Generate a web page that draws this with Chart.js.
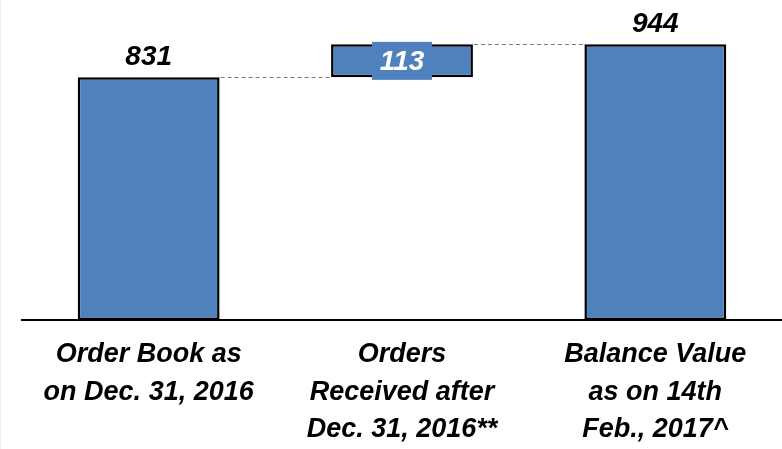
<!DOCTYPE html>
<html>
<head>
<meta charset="utf-8">
<script src="https://cdn.jsdelivr.net/npm/chart.js@4/dist/chart.umd.min.js"></script>
<style>
    html, body { margin: 0; padding: 0; background: #fff; }
    #wrap { width: 782px; height: 449px; position: relative; border-left: 1px solid #f2f2f2; box-sizing: border-box; }
</style>
</head>
<body>
<div id="wrap"><canvas id="chart"></canvas></div>
<script>
// Chart data
const categories = [
    ['Order Book as', 'on Dec. 31, 2016'],
    ['Orders', 'Received after', 'Dec. 31, 2016**'],
    ['Balance Value', 'as on 14th', 'Feb., 2017^']
];
const startValues = [0, 831, 0];
const endValues = [831, 944, 944];
const valueLabels = ['831', '113', '944'];

const barColor = '#4F81BD';
const fontFamily = '"Liberation Sans", Arial, sans-serif';

// Connectors and value labels
const waterfallPlugin = {
    id: 'waterfall',
    afterDatasetsDraw(chart) {
        const ctx = chart.ctx;
        const yScale = chart.scales.y;
        const bars = chart.getDatasetMeta(0).data;

        // dashed connector lines
        ctx.save();
        ctx.strokeStyle = '#7a7a7a';
        ctx.lineWidth = 1;
        ctx.setLineDash([4, 3]);
        for (let i = 0; i < bars.length - 1; i++) {
            const y = Math.round(yScale.getPixelForValue(endValues[i])) + 0.5;
            const x1 = bars[i].x + bars[i].width / 2 + 1;
            const x2 = bars[i + 1].x - bars[i + 1].width / 2 - 1;
            ctx.beginPath();
            ctx.moveTo(x1, y);
            ctx.lineTo(x2, y);
            ctx.stroke();
        }
        ctx.restore();

        // value labels
        ctx.save();
        ctx.font = 'italic bold 28px ' + fontFamily;
        ctx.textAlign = 'center';
        ctx.textBaseline = 'middle';
        bars.forEach((bar, i) => {
            const floating = startValues[i] !== 0;
            if (floating) {
                const top = yScale.getPixelForValue(endValues[i]);
                const bottom = yScale.getPixelForValue(startValues[i]);
                const cy = (top + bottom) / 2;
                ctx.fillStyle = barColor;
                ctx.fillRect(bar.x - 30, cy - 19, 60, 38);
                ctx.fillStyle = '#ffffff';
                ctx.fillText(valueLabels[i], bar.x, cy + 1);
            } else {
                const top = yScale.getPixelForValue(endValues[i]);
                ctx.fillStyle = '#000000';
                ctx.fillText(valueLabels[i], bar.x, top - 20);
            }
        });
        ctx.restore();
    }
};

new Chart(document.getElementById('chart'), {
    type: 'bar',
    data: {
        labels: categories,
        datasets: [{
            data: startValues.map((s, i) => [s, endValues[i]]),
            backgroundColor: barColor,
            borderColor: '#000000',
            borderWidth: 2.5,
            borderSkipped: false,
            barPercentage: 1,
            categoryPercentage: 0.56
        }]
    },
    options: {
        responsive: true,
        maintainAspectRatio: false,
        animation: false,
        layout: { padding: { top: 28, left: 21, right: 0, bottom: 0 } },
        plugins: {
            legend: { display: false },
            tooltip: { enabled: false }
        },
        scales: {
            x: {
                grid: { display: false, drawTicks: false },
                border: { display: true, color: '#000000', width: 2 },
                ticks: {
                    color: '#000000',
                    padding: 16,
                    maxRotation: 0,
                    autoSkip: false,
                    font: { family: fontFamily, size: 27, weight: 'bold', style: 'italic', lineHeight: 1.39 }
                },
                afterFit(scale) { scale.height = 129; }
            },
            y: {
                display: false,
                min: 0,
                max: 1000
            }
        }
    },
    plugins: [waterfallPlugin]
});
</script>
</body>
</html>
